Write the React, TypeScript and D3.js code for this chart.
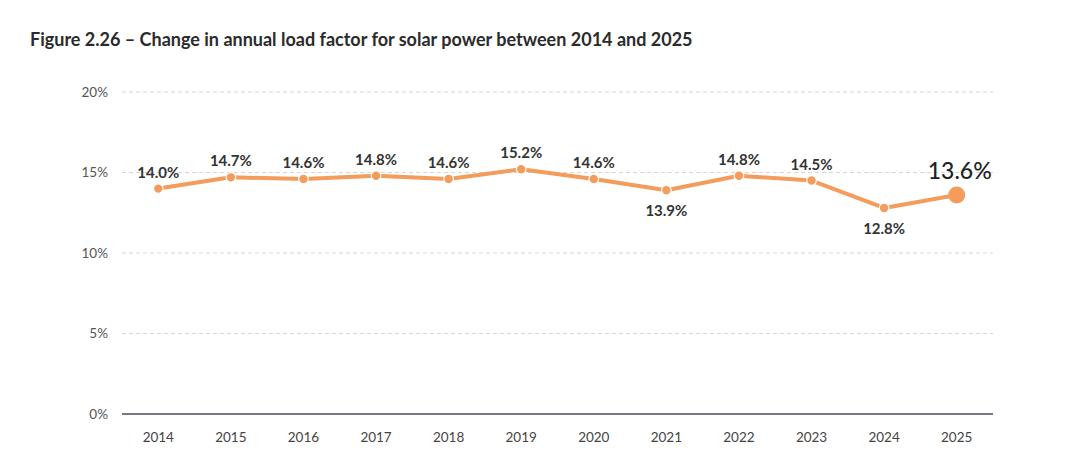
import React from 'react';
import * as d3 from 'd3';

const YEARS: string[] = ['2014', '2015', '2016', '2017', '2018', '2019', '2020', '2021', '2022', '2023', '2024', '2025'];
const LOAD_FACTOR: number[] = [14.0, 14.7, 14.6, 14.8, 14.6, 15.2, 14.6, 13.9, 14.8, 14.5, 12.8, 13.6];
const LABEL_BELOW: string[] = ['2021', '2024'];
const Y_TICKS: number[] = [0, 5, 10, 15, 20];

const WIDTH = 1090;
const HEIGHT = 467;
const FONT = 'Lato, "Noto Sans", sans-serif';
const ORANGE = '#F49C5C';

const App: React.FC = () => {
  const x = d3.scalePoint<string>().domain(YEARS).range([122, 993]).padding(0.5);
  const y = d3.scaleLinear().domain([0, 20]).range([414, 92]);

  const data = YEARS.map((year, i) => ({ year, value: LOAD_FACTOR[i] }));
  const line = d3.line<{ year: string; value: number }>()
    .x(d => x(d.year)!)
    .y(d => y(d.value));

  const last = data[data.length - 1];

  return (
    <svg width={WIDTH} height={HEIGHT} style={{ position: 'absolute', left: 0, top: 0, background: '#fff' }}>
      <text x={30} y={46} fontFamily={FONT} fontWeight={700} fontSize={18} fill="#2b2b2b">
        Figure 2.26 – Change in annual load factor for solar power between 2014 and 2025
      </text>

      {/* Grid */}
      {Y_TICKS.filter(t => t > 0).map(t => (
        <line key={t} x1={122} x2={993} y1={y(t)} y2={y(t)} stroke="#d6d6d6" strokeDasharray="4 3" strokeWidth={1} />
      ))}
      <line x1={122} x2={993} y1={y(0)} y2={y(0)} stroke="#4a4a55" strokeWidth={1.5} />

      {Y_TICKS.map(t => (
        <text key={t} x={108} y={y(t)} dy="0.35em" textAnchor="end" fontFamily={FONT} fontSize={13.5} fill="#555">
          {d3.format('d')(t)}%
        </text>
      ))}

      {YEARS.map(yr => (
        <text key={yr} x={x(yr)} y={442} textAnchor="middle" fontFamily={FONT} fontSize={13.5} fill="#444">
          {yr}
        </text>
      ))}

      <path d={line(data) ?? ''} fill="none" stroke={ORANGE} strokeWidth={4} strokeLinejoin="round" />

      {data.slice(0, -1).map(d => (
        <circle key={d.year} cx={x(d.year)} cy={y(d.value)} r={4.8} fill={ORANGE} stroke="#fff" strokeWidth={1.2} />
      ))}
      <circle cx={x(last.year)} cy={y(last.value)} r={8.5} fill={ORANGE} />

      {data.slice(0, -1).map(d => {
        const below = LABEL_BELOW.includes(d.year);
        return (
          <text
            key={d.year}
            x={x(d.year)}
            y={y(d.value) + (below ? 26 : -11)}
            textAnchor="middle"
            fontFamily={FONT}
            fontWeight={700}
            fontSize={15}
            fill="#333"
          >
            {d.value.toFixed(1)}%
          </text>
        );
      })}
      <text x={x(last.year)! + 3} y={y(last.value) - 16} textAnchor="middle" fontFamily={FONT} fontWeight={500} fontSize={23} fill="#222">
        {last.value.toFixed(1)}%
      </text>
    </svg>
  );
};

export default App;
